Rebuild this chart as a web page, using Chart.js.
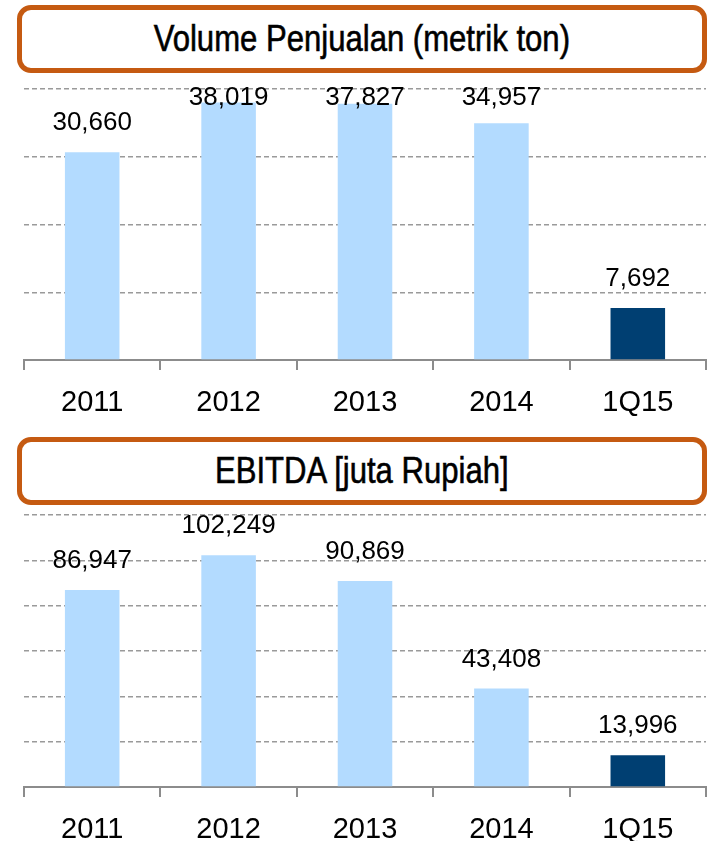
<!DOCTYPE html>
<html>
<head>
  <meta charset="UTF-8" />
  <title>Volume Penjualan & EBITDA</title>
  <script src="https://cdn.jsdelivr.net/npm/chart.js"></script>
  <style>
    body {
      margin: 0;
      width: 708px;
      height: 841px;
      background: #fff;
      position: relative;
      overflow: hidden;
    }

    .title-box {
      position: absolute;
      left: 17px;
      width: 690px;
      height: 68px;
      box-sizing: border-box;
      border: 5px solid #C55A11;
      border-radius: 14px;
      font-family: "Liberation Sans", sans-serif;
      font-size: 37px;
      color: #000;
      display: flex;
      align-items: center;
      justify-content: center;
    }

    /* the original title font is a condensed face */
    .title-box span {
      display: inline-block;
      white-space: nowrap;
      transform: scaleX(0.84);
      -webkit-text-stroke: 0.6px #000;
    }

    .chart-wrap {
      position: absolute;
      left: 0;
      width: 708px;
    }
  </style>
</head>

<body>
  <div class="title-box" style="top:5px"><span>Volume Penjualan (metrik ton)</span></div>
  <div class="chart-wrap" style="top:80px;height:355px"><canvas id="volumeChart"></canvas></div>

  <div class="title-box" style="top:437px"><span>EBITDA [juta Rupiah]</span></div>
  <div class="chart-wrap" style="top:505px;height:336px"><canvas id="ebitdaChart"></canvas></div>

  <script>
    const categories = ['2011', '2012', '2013', '2014', '1Q15'];
    const volumeValues = [30660, 38019, 37827, 34957, 7692];
    const ebitdaValues = [86947, 102249, 90869, 43408, 13996];
    const volumeTicks = { max: 40000, step: 10000 };
    const ebitdaTicks = { max: 120000, step: 20000 };

    const barColors = ['#B3DBFF', '#B3DBFF', '#B3DBFF', '#B3DBFF', '#003F72'];

    function formatNumber(num) {
      return Number(num).toLocaleString('en-US');
    }

    // labels above bars, kept inside the plot like Excel does
    const barLabels = {
      id: 'barLabels',
      afterDatasetsDraw(chart) {
        const ctx = chart.ctx;
        const area = chart.chartArea;
        const meta = chart.getDatasetMeta(0);
        ctx.save();
        ctx.font = '26px "Liberation Sans", sans-serif';
        ctx.fillStyle = '#000';
        ctx.textAlign = 'center';
        ctx.textBaseline = 'middle';
        meta.data.forEach((bar, i) => {
          const y = Math.max(bar.y - 29, area.top + 9);
          ctx.fillText(formatNumber(chart.data.datasets[0].data[i]), bar.x, y);
        });
        ctx.restore();
      }
    };

    function makeChart(id, values, ticks, axisHeight, topPad) {
      return new Chart(document.getElementById(id), {
        type: 'bar',
        data: {
          labels: categories,
          datasets: [{
            data: values,
            backgroundColor: barColors,
            borderWidth: 0,
            categoryPercentage: 1,
            barPercentage: 0.4
          }]
        },
        options: {
          responsive: true,
          maintainAspectRatio: false,
          animation: false,
          layout: { padding: { left: 24, right: 2, top: topPad, bottom: 0 } },
          plugins: {
            legend: { display: false },
            tooltip: { enabled: false }
          },
          scales: {
            x: {
              afterFit(scale) { scale.height = axisHeight; },
              grid: {
                offset: true,
                drawOnChartArea: false,
                drawTicks: true,
                tickLength: 10,
                color: '#8C8C8C',
                lineWidth: 2
              },
              border: { display: true, color: '#8C8C8C', width: 2 },
              ticks: {
                color: '#000',
                padding: 16,
                font: { family: '"Liberation Sans", sans-serif', size: 29 }
              }
            },
            y: {
              min: 0,
              max: ticks.max,
              ticks: { display: false, stepSize: ticks.step },
              grid: {
                color: '#9A9A9A',
                lineWidth: 1.5,
                drawTicks: false
              },
              border: { display: false, dash: [5, 3] }
            }
          }
        },
        plugins: [barLabels]
      });
    }

    makeChart('volumeChart', volumeValues, volumeTicks, 75, 9);
    makeChart('ebitdaChart', ebitdaValues, ebitdaTicks, 54, 10);
  </script>
</body>

</html>
